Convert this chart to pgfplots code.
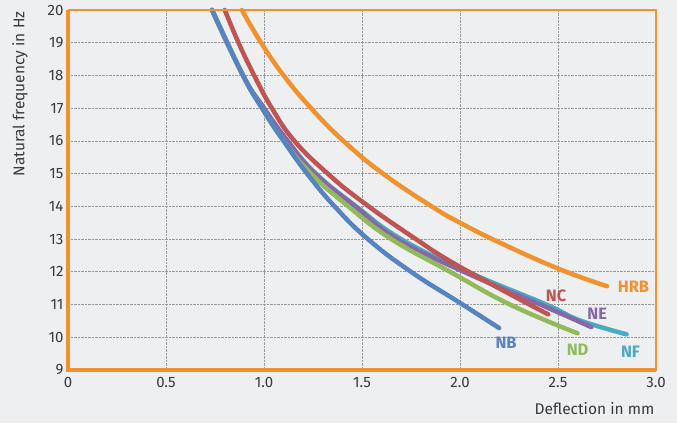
\documentclass[border=0pt]{standalone}
\usepackage{pgfplots}
\pgfplotsset{compat=1.18}
\usepackage{fontspec}
\setmainfont{Fira Sans}
\definecolor{bg}{HTML}{EEEFF0}
\definecolor{cOr}{HTML}{F2922F}
\definecolor{cBl}{HTML}{5683C2}
\definecolor{cRd}{HTML}{BE5552}
\definecolor{cGr}{HTML}{92B95A}
\definecolor{cPu}{HTML}{8469A6}
\definecolor{cTe}{HTML}{4AAAC4}
\definecolor{cTx}{HTML}{3A3A3A}
\begin{document}
\begin{tikzpicture}
\fill[bg] (-68pt,-53pt) rectangle (609pt,370pt);
\path[use as bounding box] (-68pt,-53pt) rectangle (609pt,370pt);
\begin{axis}[
  scale only axis, width=588pt, height=360pt,
  xmin=0, xmax=3, ymin=9, ymax=20,
  axis line style={draw=none},
  xtick={0,0.5,1,1.5,2,2.5,3},
  xticklabels={0,0.5,1.0,1.5,2.0,2.5,3.0},
  ytick={9,10,...,20},
  major tick length=0pt,
  grid=major,
  major grid style={densely dotted, gray!80, line width=0.8pt},
  tick label style={font=\fontsize{15}{17}\selectfont, text=cTx},
  /pgf/number format/assume math mode=true,
  xticklabel style={yshift=-4pt},
  yticklabel style={xshift=-1pt},
  clip=false,
  every axis plot/.append style={line width=4.5pt, line cap=round, smooth, tension=0.75},
]
\addplot[cOr] coordinates {(0.887,20)(0.985,19)(1.10,18)(1.24,17)(1.405,16)(1.607,15)(1.855,14)(2.0,13.5)(2.2,12.9)(2.5,12.1)(2.75,11.56)};
\addplot[cTe] coordinates {(0.735,20)(0.893,18)(1.0,17)(1.12,16)(1.265,15)(1.47,14)(1.70,13)(2.04,12)(2.44,11)(2.61,10.52)(2.85,10.09)};
\addplot[cPu] coordinates {(0.735,20)(0.893,18)(1.0,17)(1.12,16)(1.26,15)(1.465,14)(1.68,13)(2.02,12)(2.41,11)(2.67,10.31)};
\addplot[cGr] coordinates {(0.735,20)(0.893,18)(0.99,17)(1.10,16)(1.24,15)(1.43,14)(1.65,13)(1.95,12)(2.255,11)(2.60,10.12)};
\addplot[cRd] coordinates {(0.80,20)(0.87,19)(0.95,18)(1.04,17)(1.155,16)(1.325,15)(1.5,14.15)(1.75,13.1)(2.0,12.15)(2.45,10.7)};
\addplot[cBl] coordinates {(0.735,20)(0.893,18)(0.99,17)(1.10,16)(1.22,15)(1.36,14)(1.53,13)(1.75,12)(2.0,11.05)(2.20,10.28)};
\draw[cOr, line width=3.5pt] (rel axis cs:0,1) -- (rel axis cs:0,0) -- (rel axis cs:1,0);
\draw[cOr, line width=1.2pt] (rel axis cs:0,1) -- (rel axis cs:1,1) -- (rel axis cs:1,0);
\begin{scope}[every node/.style={font=\fontsize{16.5}{18}\selectfont\bfseries}]
\node[cOr] at (axis cs:2.885,11.53) {HRB};
\node[cRd] at (axis cs:2.49,11.28) {NC};
\node[cPu] at (axis cs:2.70,10.73) {NE};
\node[cBl] at (axis cs:2.235,9.82) {NB};
\node[cGr] at (axis cs:2.60,9.63) {ND};
\node[cTe] at (axis cs:2.87,9.57) {NF};
\end{scope}
\node[rotate=90, anchor=east, font=\fontsize{15.5}{17}\selectfont, text=cTx] at ([xshift=-48pt,yshift=2pt]rel axis cs:0,1) {Natural frequency in Hz};
\node[anchor=east, font=\fontsize{15.5}{17}\selectfont, text=cTx] at ([yshift=-39pt,xshift=2pt]rel axis cs:1,0) {Deflection in mm};
\end{axis}
\end{tikzpicture}
\end{document}
